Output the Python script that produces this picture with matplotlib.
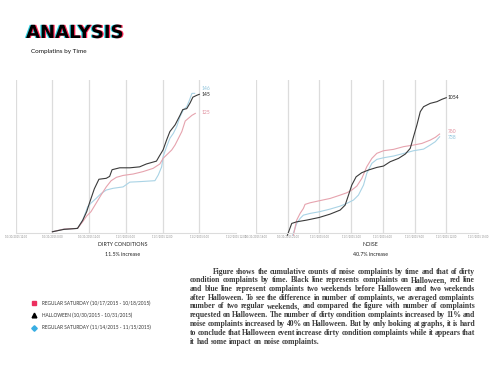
import matplotlib
matplotlib.use('Agg')
import matplotlib.pyplot as plt
import matplotlib.patheffects as pe
from matplotlib.lines import Line2D

W, H = 500, 386

# ---- dirty conditions (hours from first tick) ----
dirty_ticks = ['10/30/2015 12:00', '10/31/2015 0:00', '10/31/2015 12:00', '11/1/2015 0:00',
               '11/1/2015 12:00', '11/2/2015 0:00', '11/2/2015 12:00']
dirty_halloween_x = [12.0, 15.8, 20.2, 21.9, 23.2, 24.1, 25.7, 27.2, 29.6, 30.7, 31.5, 34.0, 37.3, 40.5,
                     42.7, 46.0, 46.9, 48.2, 49.3, 50.4, 52.1, 53.7, 54.6, 55.9, 57.0, 57.9, 59.2, 60.0]
dirty_halloween_y = [1, 3.5, 4.5, 13, 22, 31, 46, 56, 57, 59, 66, 68, 68, 69,
                     72, 75, 80, 87, 97, 106, 113, 123, 129, 130, 136, 142, 144, 145]
dirty_before_x = [12.0, 15.8, 20.2, 21.9, 23.2, 24.6, 26.3, 27.9, 29.6, 31.2, 32.9, 35.1, 38.4, 41.6,
                  44.9, 47.1, 48.2, 49.3, 51.0, 52.1, 53.2, 54.3, 55.4, 56.5, 57.6, 58.7]
dirty_before_y = [1, 3.8, 4.5, 11.5, 17.5, 22, 31, 39.5, 48, 54.5, 58, 60, 61.5, 64,
                  67.4, 72, 78, 81.4, 86.7, 92, 99, 106, 117, 120, 123, 125]
dirty_after_x = [12.0, 15.8, 20.2, 21.9, 23.5, 24.6, 26.3, 27.9, 29.6, 31.8, 35.1, 37.3, 40.5, 45.5,
                 46.6, 47.7, 48.2, 49.3, 50.4, 51.5, 52.6, 53.7, 54.8, 55.9, 56.8, 57.6, 58.5]
dirty_after_y = [1, 3.8, 4.5, 13, 27, 31, 36, 41, 44.7, 46.5, 48, 53, 53.5, 54.5,
                 60.5, 69, 80, 90, 99, 104, 111, 121.6, 128.6, 132, 139, 146, 146]

# ---- noise (hours from first tick) ----
noise_ticks = ['10/31/2015 18:00', '10/31/2015 21:00', '11/1/2015 0:00', '11/1/2015 3:00',
               '11/1/2015 6:00', '11/1/2015 9:00', '11/1/2015 12:00', '11/1/2015 15:00']
noise_halloween_x = [2.97, 3.38, 3.85, 4.8, 5.97, 7.0, 7.96, 8.43, 8.75, 9.06, 9.47, 10.0, 10.64, 11.43,
                     12.06, 12.69, 13.48, 14.12, 14.59, 14.9, 15.22, 15.54, 15.85, 16.48, 17.12, 17.59, 18.0]
noise_halloween_y = [-58, 37, 50, 64, 85, 112, 145, 185, 266, 347, 414, 447, 469, 490,
                     501, 536, 563, 598, 644, 738, 833, 941, 981, 1008, 1022, 1041, 1054]
noise_before_x = [3.54, 3.85, 4.17, 4.48, 4.64, 5.12, 5.97, 7.01, 7.96, 8.59, 9.06, 9.54, 10.01, 10.48,
                  10.96, 11.43, 12.06, 13.01, 13.96, 14.91, 15.69, 16.48, 16.96, 17.37]
noise_before_y = [-58, 64, 118, 158, 191, 204, 220, 239, 266, 285, 307, 339, 401, 496,
                  563, 604, 625, 636, 658, 671, 684, 711, 733, 760]
noise_after_x = [3.47, 3.85, 4.17, 4.48, 5.12, 5.97, 7.01, 7.96, 8.59, 9.22, 9.69, 10.17, 10.48, 10.96,
                 11.43, 12.06, 13.01, 13.96, 14.91, 15.85, 16.48, 16.96, 17.37]
noise_after_y = [-58, 37, 77, 104, 118, 131, 153, 177, 199, 226, 266, 347, 442, 523,
                 555, 568, 582, 603, 625, 638, 671, 698, 738]

legend_labels = ['REGULAR SATURDAY (10/17/2015 - 10/18/2015)',
                 'HALLOWEEN (10/30/2015 - 10/31/2015)',
                 'REGULAR SATURDAY (11/14/2015 - 11/15/2015)']

paragraph = [
    'Figure shows the cumulative counts of noise complaints by time and that of dirty',
    'condition complaints by time. Black line represents complaints on Halloween, red line',
    'and blue line represent complaints two weekends before Halloween and two weekends',
    'after Halloween. To see the difference in number of complaints, we averaged complaints',
    'number of two regular weekends, and compared the figure with number of complaints',
    'requested on Halloween. The number of dirty condition complaints increased by 11% and',
    'noise complaints increased by 40% on Halloween. But by only looking at graphs, it is hard',
    'to conclude that Halloween event increase dirty condition complaints while it appears that',
    'it had some impact on noise complaints.',
]

BLACK = '#3a3a3a'
RED = '#e6a3ae'
BLUE = '#a9d3e5'
GRID = '#dcdcdc'
SANS = ['Lato', 'DejaVu Sans']

fig = plt.figure(figsize=(W / 100, H / 100), dpi=100)


def px(x, y):
    return x / W, 1 - y / H


def style_axes(ax, ticks, step, xmax, ylim):
    ax.set_xlim(0, xmax)
    ax.set_ylim(*ylim)
    ax.set_xticks([i * step for i in range(len(ticks))])
    ax.set_xticklabels(ticks, fontsize=1.9, color='#8a8a8a', family=SANS)
    ax.set_yticks([])
    ax.tick_params(axis='x', length=0, pad=1.5)
    for s in ['top', 'left', 'right']:
        ax.spines[s].set_visible(False)
    ax.spines['bottom'].set_color(GRID)
    ax.spines['bottom'].set_linewidth(0.8)
    ax.grid(axis='x', color=GRID, linewidth=0.9)
    ax.get_xgridlines()[-1].set_visible(False)
    ax.set_axisbelow(True)


# left chart: dirty conditions
ax1 = fig.add_axes([15.7 / W, 1 - 232.7 / H, 220.3 / W, 152.7 / H])
style_axes(ax1, dirty_ticks, 12, 72, (0, 160))
ax1.plot(dirty_after_x, dirty_after_y, color=BLUE, lw=0.8)
ax1.plot(dirty_before_x, dirty_before_y, color=RED, lw=0.8)
ax1.plot(dirty_halloween_x, dirty_halloween_y, color=BLACK, lw=0.8)
lx = 60.6
ax1.text(lx, dirty_after_y[-1] + 5, '%d' % dirty_after_y[-1], color='#8fc4dc', fontsize=3.6, va='center', family=SANS)
ax1.text(lx, dirty_halloween_y[-1], '%d' % dirty_halloween_y[-1], color='#222222', fontsize=3.6, va='center', family=SANS)
ax1.text(lx, dirty_before_y[-1] + 1, '%d' % dirty_before_y[-1], color='#e08d9c', fontsize=3.6, va='center', family=SANS)

# right chart: noise
ax2 = fig.add_axes([256 / W, 1 - 232.7 / H, 222 / W, 152.7 / H])
style_axes(ax2, noise_ticks, 3, 21, (-38, 1197))
ax2.plot(noise_after_x, noise_after_y, color=BLUE, lw=0.8, clip_on=False)
ax2.plot(noise_before_x, noise_before_y, color=RED, lw=0.8, clip_on=False)
ax2.plot(noise_halloween_x, noise_halloween_y, color=BLACK, lw=0.8, clip_on=False)
rx = 18.1
ax2.text(rx, noise_halloween_y[-1], '%d' % noise_halloween_y[-1], color='#222222', fontsize=3.6, va='center', family=SANS)
ax2.text(rx, noise_before_y[-1] + 19, '%d' % noise_before_y[-1], color='#e08d9c', fontsize=3.6, va='center', family=SANS)
ax2.text(rx, noise_after_y[-1] - 5, '%d' % noise_after_y[-1], color='#8fc4dc', fontsize=3.6, va='center', family=SANS)

# title with a red / cyan offset shadow
glitch = [pe.SimplePatchShadow(offset=(-0.9, 0), shadow_rgbFace='#30d0e0', alpha=1),
          pe.SimplePatchShadow(offset=(0.9, 0), shadow_rgbFace='#ff2a5a', alpha=1),
          pe.Normal()]
fig.text(*px(26, 33), 'ANALYSIS', fontsize=13, weight='heavy', color='black',
         family='DejaVu Sans', va='center', ha='left', path_effects=glitch)
fig.text(*px(31, 51), 'Complatins by Time', fontsize=4.6, color='#111111', family=SANS, va='center')

fig.text(*px(123, 244), 'DIRTY CONDITIONS', fontsize=3.8, color='#222222', family=SANS, ha='center', va='center')
fig.text(*px(123, 255), '11.5% increase', fontsize=3.8, color='#222222', family=SANS, ha='center', va='center')
fig.text(*px(370.5, 244), 'NOISE', fontsize=3.8, color='#222222', family=SANS, ha='center', va='center')
fig.text(*px(370.5, 255), '40.7% increase', fontsize=3.8, color='#222222', family=SANS, ha='center', va='center')

# legend
handles = [Line2D([], [], ls='', marker='s', color='#ec2f5f', markersize=3.2),
           Line2D([], [], ls='', marker='^', color='black', markersize=3.4),
           Line2D([], [], ls='', marker='D', color='#39aee3', markersize=2.8)]
fig.legend(handles, legend_labels, loc='upper left', bbox_to_anchor=px(29, 298), frameon=False,
           prop={'family': SANS, 'size': 3.4}, labelspacing=1.45, handletextpad=1.2,
           handlelength=1.0, borderpad=0, labelcolor='#333333')

# justified paragraph
fig.canvas.draw()
renderer = fig.canvas.get_renderer()
pstyle = dict(fontsize=5.5, family='Liberation Serif', weight='bold', color='#3a3a3a', va='baseline')


def width(s):
    t = fig.text(0, 0, s, **pstyle)
    w = t.get_window_extent(renderer).width
    t.remove()
    return w


space = width('a a') - width('aa')
x_left, x_right, y0, step = 190, 475, 273.5, 8.75
for i, line in enumerate(paragraph):
    words = line.split(' ')
    start = 213 if i == 0 else x_left
    ws = [width(w) for w in words]
    if i == len(paragraph) - 1:
        gap = space
    else:
        gap = (x_right - start - sum(ws)) / (len(words) - 1)
    x = start
    for w, ww in zip(words, ws):
        fig.text(*px(x, y0 + i * step), w, **pstyle)
        x += ww + gap

fig.savefig('out.png', dpi=100, facecolor='white')
